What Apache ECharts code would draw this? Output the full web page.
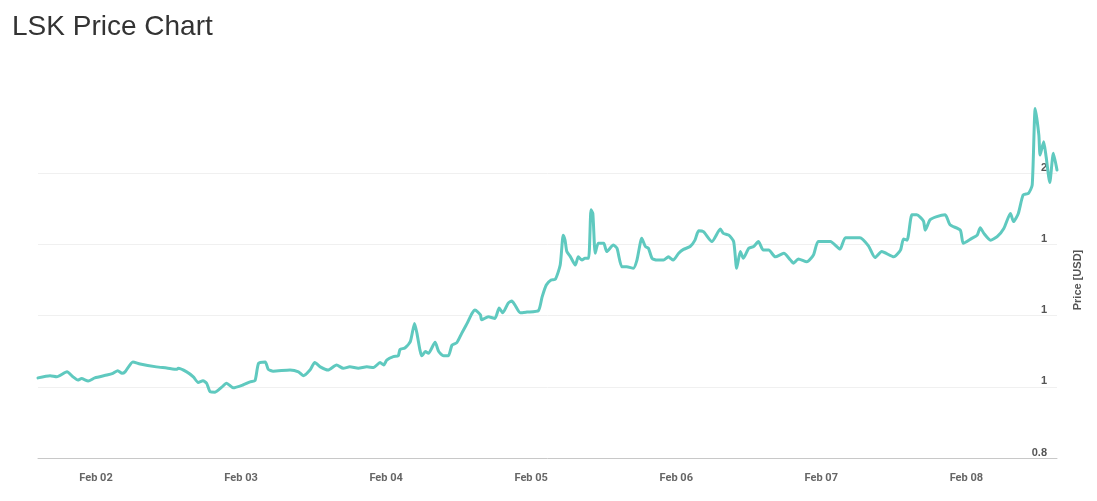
<!DOCTYPE html>
<html>
<head>
<meta charset="utf-8">
<script src="https://cdn.jsdelivr.net/npm/echarts@6/dist/echarts.min.js"></script>
<style>
html,body{margin:0;padding:0;background:#fff;}
#chart{width:1097px;height:501px;}
</style>
</head>
<body>
<div id="chart"></div>
<script>
// x positions are hours since Feb 02 00:00
const hours = [-9.6,-7.6,-6.5,-4.8,-3.8,-3.0,-2.4,-1.3,-0.2,1.8,2.8,3.6,4.3,4.8,6.1,7.3,10.0,11.7,13.4,13.6,15.0,16.1,16.9,17.7,18.3,18.9,19.7,20.8,21.6,22.7,24.3,25.5,26.3,26.9,28.0,28.5,29.3,32.1,
33.5,34.3,35.4,36.2,37.1,38.4,39.8,40.9,42.0,43.4,44.8,45.9,47.0,47.6,48.1,49.2,50.0,50.3,51.1,52.0,52.7,53.1,53.6,53.9,54.5,55.0,56.1,56.7,57.5,58.3,58.9,59.7,60.5,61.4,62.2,62.7,63.6,63.8,64.9,66.0,66.7,67.3,68.2,68.8,69.3,70.2,71.3,73.2,
73.8,74.5,75.3,76.0,
76.8,77.3,77.6,77.9,78.5,79.3,79.8,80.4,80.9,81.5,81.9,82.2,82.6,83.1,84.0,84.5,85.6,86.2,87.0,87.8,88.9,89.5,90.3,90.9,91.4,92.0,92.8,93.9,94.7,95.5,96.4,97.2,98.3,99.1,99.7,100.5,101.9,103.3,103.8,104.7,105.5,106.0,106.6,107.1,108.0,108.8,109.6,110.4,111.3,112.4,113.8,114.9,
115.4,116.2,117.6,118.7,119.5,121.5,123.1,124.0,126.4,127.8,128.9,130.0,132.0,133.1,133.6,134.2,135.0,135.8,136.9,137.2,138.0,139.1,140.5,141.3,143.0,143.5,144.9,145.8,146.3,146.9,148.0,149.1,150.2,151.3,151.8,152.6,153.4,154.3,154.9,155.4,156.0,156.2,156.8,157.2,157.8,158.4,159.0];

const prices = [1.025,1.031,1.028,1.042,1.028,1.019,1.023,1.016,1.025,1.033,1.038,1.045,1.038,1.042,1.070,1.064,1.056,1.053,1.049,1.052,1.042,1.028,1.012,1.017,1.010,0.986,0.985,0.999,1.010,0.997,1.005,1.014,1.017,1.066,1.070,1.049,1.044,1.047,
1.042,1.031,1.047,1.068,1.056,1.047,1.061,1.052,1.056,1.052,1.056,1.054,1.068,1.061,1.075,1.085,1.087,1.105,1.109,1.127,1.178,1.150,1.103,1.087,1.099,1.094,1.125,1.099,1.087,1.087,1.117,1.124,1.150,1.178,1.206,1.216,1.202,1.188,1.197,1.192,1.221,1.208,1.235,1.241,1.230,1.208,1.210,1.214,
1.252,1.286,1.300,1.302,
1.342,1.426,1.412,1.380,1.365,1.342,1.365,1.356,1.361,1.361,1.497,1.487,1.375,1.403,1.403,1.380,1.398,1.389,1.337,1.337,1.333,1.356,1.417,1.394,1.389,1.361,1.356,1.356,1.365,1.356,1.375,1.386,1.394,1.412,1.438,1.436,1.408,1.443,1.431,1.426,1.408,1.333,1.380,1.361,1.389,1.394,1.408,1.384,1.384,1.365,1.375,1.356,
1.347,1.359,1.351,1.370,1.408,1.408,1.387,1.419,1.419,1.396,1.363,1.380,1.365,1.384,1.415,1.412,1.483,1.483,1.466,1.440,1.469,1.478,1.483,1.455,1.440,1.403,1.417,1.426,1.447,1.431,1.412,1.422,1.445,1.487,1.464,1.487,1.539,1.544,1.567,1.782,1.707,1.651,1.688,1.646,1.574,1.656,1.609];

const dayHours = [0, 24, 48, 72, 96, 120, 144];
const dayLabels = ['Feb 02', 'Feb 03', 'Feb 04', 'Feb 05', 'Feb 06', 'Feb 07', 'Feb 08'];
const yTicks = [0.8, 1.0, 1.2, 1.4, 1.6];
const yTickLabels = ['0.8', '1', '1', '1', '2'];

const chart = echarts.init(document.getElementById('chart'), null, {renderer: 'canvas'});
const seriesData = hours.map((h, i) => [h, prices[i]]);

chart.setOption({
  animation: false,
  backgroundColor: '#ffffff',
  title: {
    text: 'LSK Price Chart',
    left: 7,
    top: 8,
    textStyle: {fontFamily: 'Liberation Sans, Arial, sans-serif', fontSize: 28, fontWeight: 'normal', color: '#333333'}
  },
  grid: {left: 38, right: 40, top: 102, bottom: 43, containLabel: false},
  xAxis: {
    type: 'value',
    min: hours[0],
    max: hours[hours.length - 1],
    axisLine: {show: true, lineStyle: {color: '#c8c8c8', width: 1}},
    axisTick: {show: false},
    splitLine: {show: false},
    axisLabel: {
      customValues: dayHours,
      margin: 15,
      fontFamily: 'Roboto, Liberation Sans, sans-serif',
      fontSize: 11,
      fontWeight: 'bold',
      color: '#666666',
      formatter: function (v) {
        const i = dayHours.indexOf(Math.round(v));
        return i >= 0 ? dayLabels[i] : '';
      }
    }
  },
  yAxis: {
    type: 'value',
    position: 'right',
    min: 0.8,
    max: 1.8,
    interval: 0.2,
    name: 'Price [USD]',
    nameLocation: 'middle',
    nameRotate: 90,
    nameGap: 15,
    nameTextStyle: {fontFamily: 'Liberation Sans, Arial, sans-serif', fontSize: 11, fontWeight: 'bold', color: '#555555'},
    axisLine: {show: false},
    axisTick: {show: false},
    splitLine: {show: true, showMinLine: false, showMaxLine: false, lineStyle: {color: '#f0f0f0', width: 1}},
    axisLabel: {
      inside: true,
      margin: 10,
      customValues: yTicks,
      verticalAlign: 'bottom',
      fontFamily: 'Liberation Sans, Arial, sans-serif',
      fontSize: 11,
      fontWeight: 'bold',
      color: '#555555',
      formatter: function (v) {
        for (let i = 0; i < yTicks.length; i++) {
          if (Math.abs(yTicks[i] - v) < 1e-6) return yTickLabels[i];
        }
        return '';
      }
    }
  },
  series: [{
    type: 'line',
    data: seriesData,
    showSymbol: false,
    smooth: 0.2,
    lineStyle: {color: '#5fc9bf', width: 3, join: 'round', cap: 'round'},
    itemStyle: {color: '#5fc9bf'}
  }]
});
</script>
</body>
</html>
